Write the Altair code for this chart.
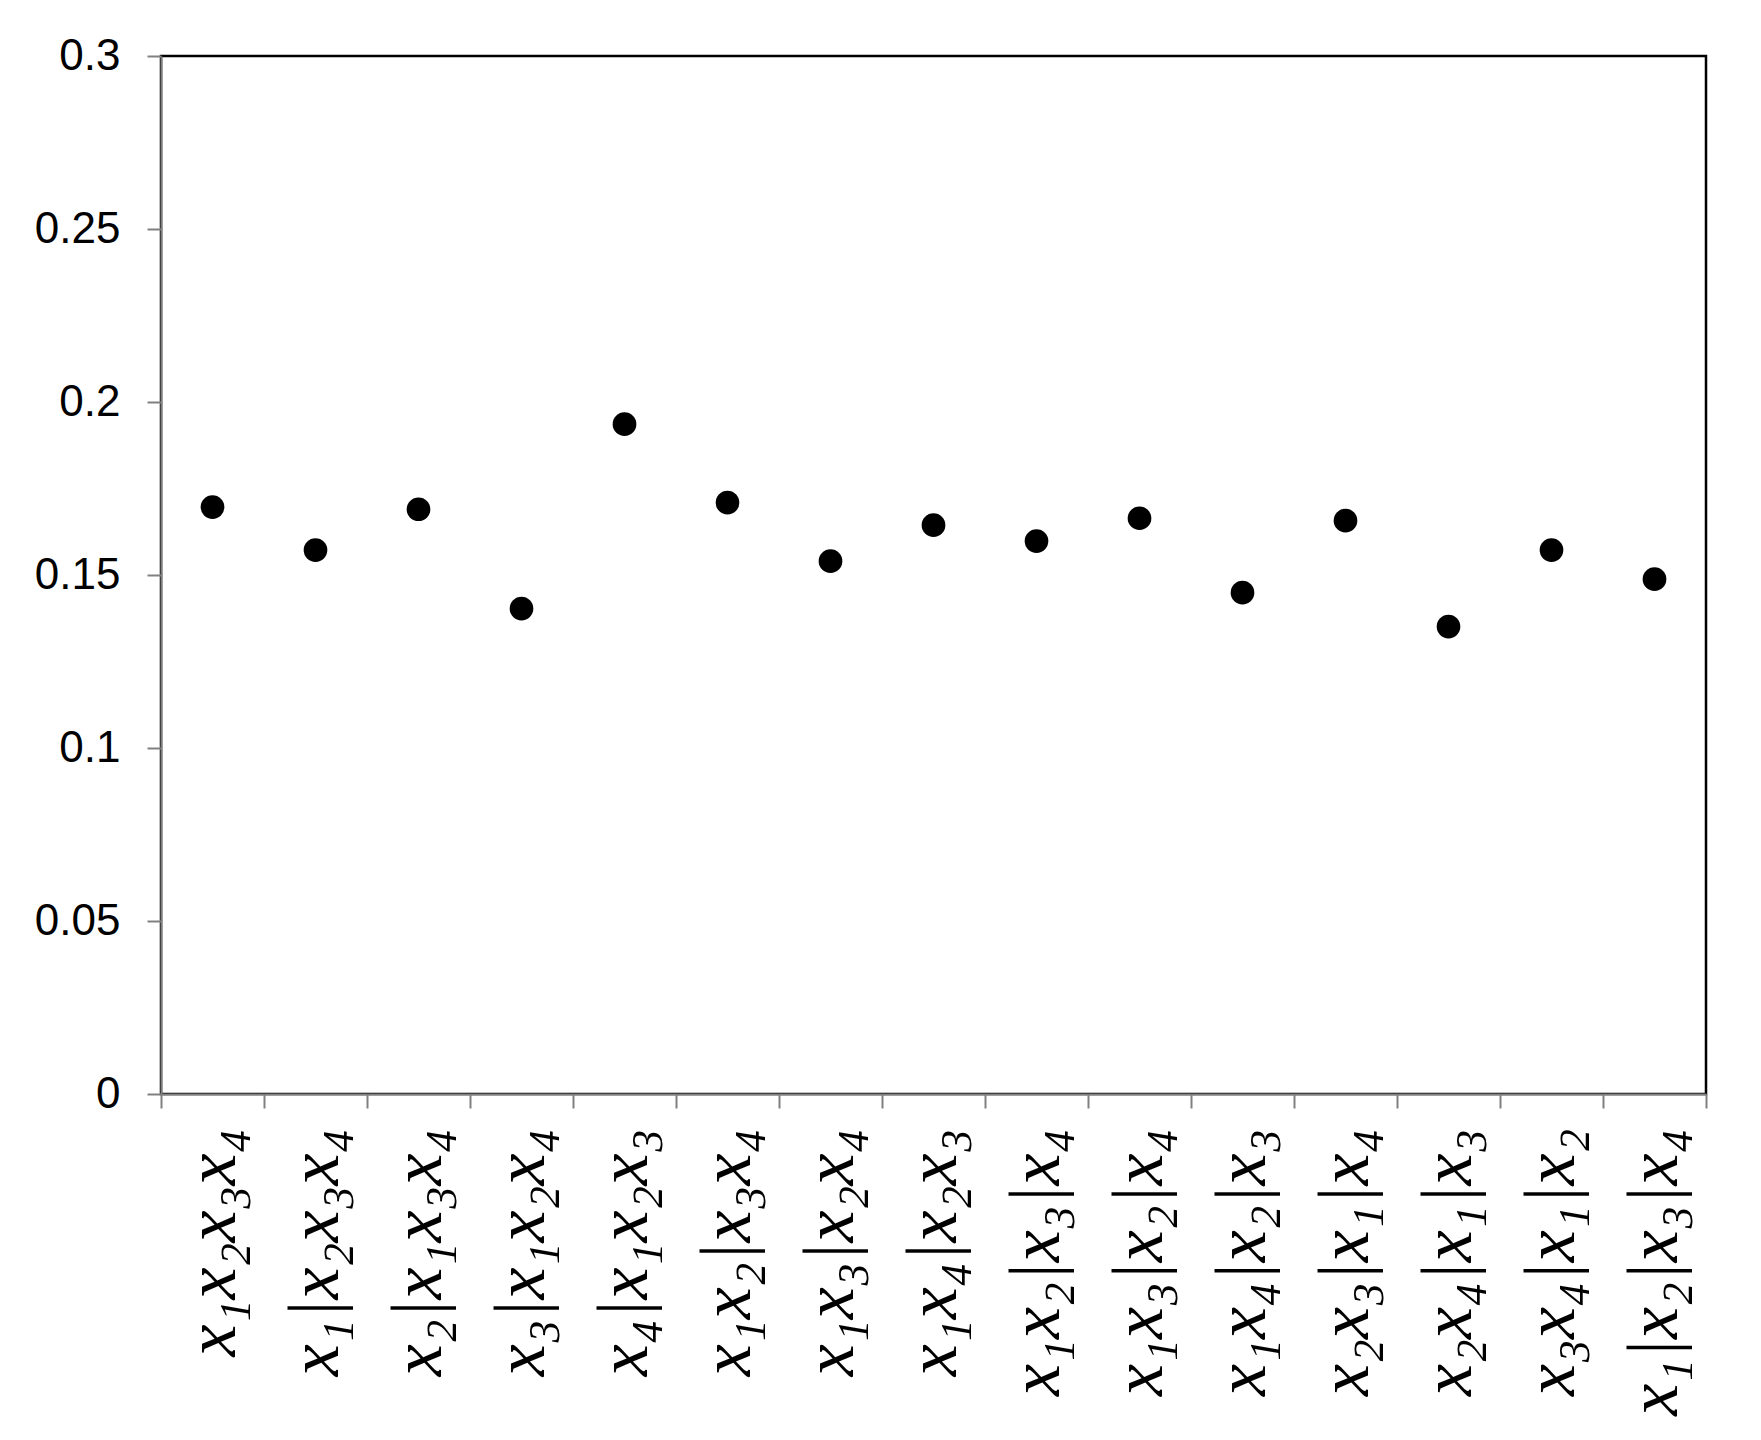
import altair as alt
import pandas as pd

categories = [
    "x₁x₂x₃x₄",
    "x₁|x₂x₃x₄",
    "x₂|x₁x₃x₄",
    "x₃|x₁x₂x₄",
    "x₄|x₁x₂x₃",
    "x₁x₂|x₃x₄",
    "x₁x₃|x₂x₄",
    "x₁x₄|x₂x₃",
    "x₁x₂|x₃|x₄",
    "x₁x₃|x₂|x₄",
    "x₁x₄|x₂|x₃",
    "x₂x₃|x₁|x₄",
    "x₂x₄|x₁|x₃",
    "x₃x₄|x₁|x₂",
    "x₁|x₂|x₃|x₄",
]
values = [0.1696, 0.1572, 0.1690, 0.1403, 0.1936, 0.1709, 0.1540, 0.1644,
          0.1598, 0.1664, 0.1449, 0.1657, 0.1351, 0.1572, 0.1488]
y_ticks = [0, 0.05, 0.1, 0.15, 0.2, 0.25, 0.3]

df = pd.DataFrame({"partition": categories, "value": values})

chart = alt.Chart(df).mark_circle(color="black", opacity=1, size=560).encode(
    x=alt.X(
        "partition:N",
        sort=None,
        scale=alt.Scale(paddingInner=0, paddingOuter=0),
        axis=alt.Axis(
            title=None,
            labelAngle=270,
            labelFont="'Liberation Serif', 'Times New Roman', 'DejaVu Serif', serif",
            labelFontStyle="italic",
            labelFontSize=72,
            labelColor="black",
            labelLimit=0,
            labelOverlap=False,
            labelPadding=20,
            tickBand="extent",
            tickSize=14,
            tickColor="#808080",
            tickWidth=2,
            domainColor="#808080",
            domainWidth=2,
            grid=False,
        ),
    ),
    y=alt.Y(
        "value:Q",
        scale=alt.Scale(domain=[0, 0.3], nice=False, zero=True),
        axis=alt.Axis(
            title=None,
            values=y_ticks,
            format=".2~f",
            labelFont="Liberation Sans",
            labelFontSize=44,
            labelColor="black",
            labelPadding=27,
            tickSize=14,
            tickColor="#808080",
            tickWidth=2,
            domainColor="#808080",
            domainWidth=2,
            grid=False,
        ),
    ),
).properties(
    width=1545,
    height=1038,
    view=alt.ViewBackground(stroke="#000000", strokeWidth=2.5, fill="white"),
    autosize=alt.AutoSizeParams(type="none"),
    padding={"left": 153, "top": 48, "right": 30, "bottom": 330},
).configure_view(
    stroke="#000000", strokeWidth=2.5
).configure(background="white")

chart.save("out.html", embed_options={"renderer": "svg", "actions": False})
